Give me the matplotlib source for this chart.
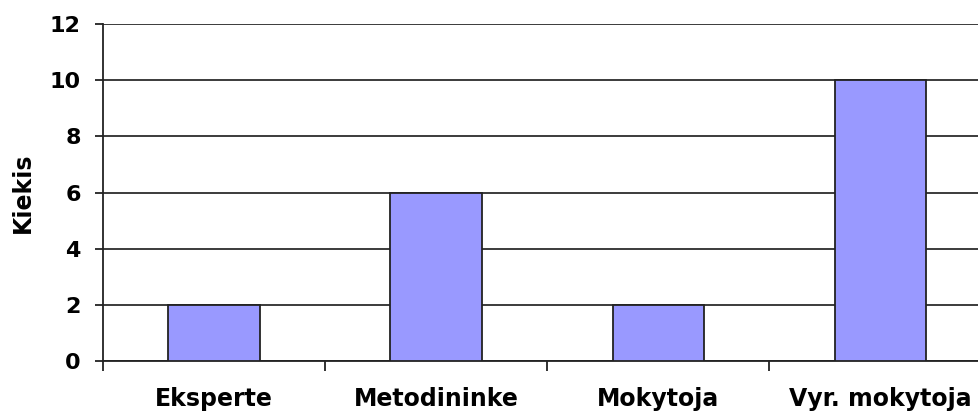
import matplotlib
matplotlib.use('Agg')
import matplotlib.pyplot as plt

# data
categories = ['Eksperte', 'Metodininke', 'Mokytoja', 'Vyr. mokytoja']
counts = [2, 6, 2, 10]
yticks = [0, 2, 4, 6, 8, 10, 12]

plt.rcParams['font.family'] = ['DejaVu Sans']
plt.rcParams['font.weight'] = 'bold'

fig = plt.figure(figsize=(9.79, 4.12), dpi=100)
# the plot area runs past the right edge of the picture, as in the original
ax = fig.add_axes([0.1052, 0.1238, 0.9071, 0.8179])

pos = list(range(len(categories)))
ax.bar(pos, counts, width=0.41, color='#9999FF', edgecolor='#222222',
       linewidth=1.3, zorder=3)

ax.set_xlim(-0.5, len(categories) - 0.5)
ax.set_ylim(0, 12)
ax.set_yticks(yticks)
ax.yaxis.grid(True, color='#1a1a1a', linewidth=1.2, zorder=0)

# boundary ticks as major, category names on minor ticks
ax.set_xticks([p - 0.5 for p in pos] + [len(categories) - 0.5])
ax.set_xticklabels([])
ax.set_xticks(pos, minor=True)
ax.set_xticklabels(categories, minor=True, fontsize=17, fontweight='bold')
ax.tick_params(axis='x', which='minor', length=0, pad=19)
ax.tick_params(axis='x', which='major', length=7, width=1.3, color='#222222')
ax.tick_params(axis='y', length=6, width=1.3, color='#222222', pad=10,
               labelsize=16)
for t in ax.get_yticklabels():
    t.set_fontweight('bold')

ax.set_ylabel('Kiekis', fontsize=17, fontweight='bold')
ax.yaxis.set_label_coords(-0.077, 0.5)

for s in ['top', 'right']:
    ax.spines[s].set_visible(False)
for s in ['left', 'bottom']:
    ax.spines[s].set_color('#222222')
    ax.spines[s].set_linewidth(1.3)

fig.savefig('out.png', dpi=100)
